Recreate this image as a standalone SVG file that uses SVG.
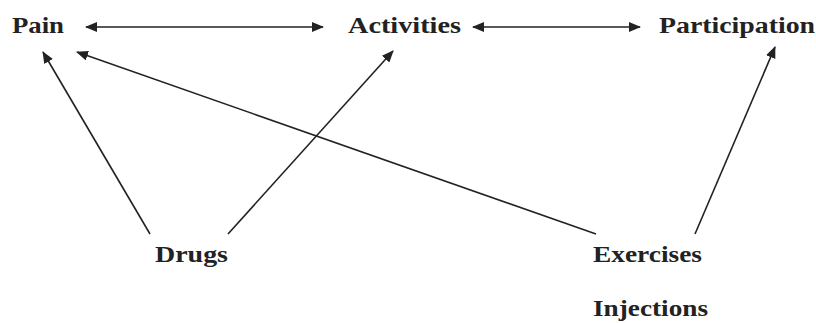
<svg xmlns="http://www.w3.org/2000/svg" width="816" height="323" viewBox="0 0 816 323">
<style>
text{font-family:"Liberation Serif","Times New Roman",serif;font-weight:bold;font-size:24px;fill:#222}
.c line{stroke:#222;stroke-width:1.6;fill:none}
</style>
<defs>
<marker id="ah" viewBox="0 0 12 10" refX="11" refY="5" markerWidth="12" markerHeight="10" markerUnits="userSpaceOnUse" orient="auto-start-reverse">
<path d="M0,0 L12,5 L0,10 z" fill="#222"/>
</marker>
</defs>
<rect width="816" height="323" fill="#fff"/>
<g class="c" id="connectors">
<line x1="86" y1="27" x2="323" y2="27" marker-start="url(#ah)" marker-end="url(#ah)"/>
<line x1="473" y1="27" x2="640" y2="27" marker-start="url(#ah)" marker-end="url(#ah)"/>
<line x1="150" y1="234" x2="43" y2="52" marker-end="url(#ah)"/>
<line x1="228" y1="234" x2="393" y2="51" marker-end="url(#ah)"/>
<line x1="596" y1="234" x2="77" y2="52" marker-end="url(#ah)"/>
<line x1="695" y1="234" x2="775" y2="47" marker-end="url(#ah)"/>
</g>
<g id="pain"><text x="12" y="33" textLength="52" lengthAdjust="spacingAndGlyphs">Pain</text></g>
<g id="activities"><text x="348" y="33" textLength="113" lengthAdjust="spacingAndGlyphs">Activities</text></g>
<g id="participation"><text x="659" y="33" textLength="156" lengthAdjust="spacingAndGlyphs">Participation</text></g>
<g id="drugs"><text x="155" y="262" textLength="73" lengthAdjust="spacingAndGlyphs">Drugs</text></g>
<g id="exercises"><text x="593" y="262" textLength="109" lengthAdjust="spacingAndGlyphs">Exercises</text></g>
<g id="injections"><text x="593" y="316" textLength="115" lengthAdjust="spacingAndGlyphs">Injections</text></g>
</svg>
